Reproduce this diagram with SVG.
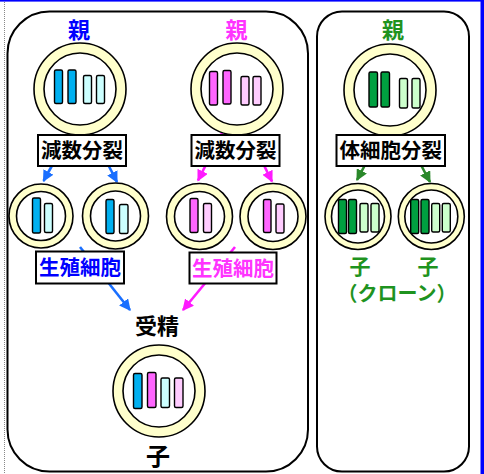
<svg xmlns="http://www.w3.org/2000/svg" width="484" height="474" viewBox="0 0 484 474">
  <defs>
    <style>
      .panel { fill: #ffffff; stroke: #000000; stroke-width: 2; }
      .ring { fill: #ffffcc; stroke: #000000; stroke-width: 1.6; }
      .core { fill: #ffffff; stroke: #000000; stroke-width: 1.6; }
      .bar { stroke: #000000; stroke-width: 1.4; }
      .b-dark { fill: #00b0f0; }
      .b-light { fill: #ccffff; }
      .p-dark { fill: #ff66ff; }
      .p-light { fill: #ffccff; }
      .g-dark { fill: #00a040; }
      .g-light { fill: #ccffcc; }
      .box { fill: #ffffff; stroke: #000000; stroke-width: 2; }
      .t { font-family: "Noto Sans CJK JP", "Noto Sans", sans-serif; font-weight: bold; text-anchor: middle; }
      .blue { fill: #0000ff; }
      .pink { fill: #ff33ff; }
      .green { fill: #1f931f; }
      .black { fill: #000000; }
      .a-blue { stroke: #1a6fff; fill: none; stroke-width: 2.6; }
      .a-pink { stroke: #ff1aff; fill: none; stroke-width: 2.6; }
      .a-green { stroke: #2a882a; fill: none; stroke-width: 2.6; }
    </style>
    <marker id="head-blue" viewBox="0 0 10 10" refX="9" refY="5" markerWidth="4.4" markerHeight="4.4" markerUnits="strokeWidth" orient="auto">
      <path d="M0,0 L10,5 L0,10 z" fill="#1a6fff"/>
    </marker>
    <marker id="head-pink" viewBox="0 0 10 10" refX="9" refY="5" markerWidth="4.4" markerHeight="4.4" markerUnits="strokeWidth" orient="auto">
      <path d="M0,0 L10,5 L0,10 z" fill="#ff1aff"/>
    </marker>
    <marker id="head-green" viewBox="0 0 10 10" refX="9" refY="5" markerWidth="4.4" markerHeight="4.4" markerUnits="strokeWidth" orient="auto">
      <path d="M0,0 L10,5 L0,10 z" fill="#2a882a"/>
    </marker>
  </defs>

  <!-- page frame -->
  <rect x="0" y="0" width="484" height="474" fill="#ffffff"/>
  <rect x="0" y="0" width="484" height="1.6" fill="#0000ff"/>
  <rect x="480.5" y="0" width="3.5" height="474" fill="#0000ff"/>
  <line x1="4.5" y1="2" x2="4.5" y2="474" stroke="#888888" stroke-width="1" stroke-dasharray="1 1"/>

  <!-- panels: sexual reproduction (left) and asexual reproduction (right) -->
  <g id="panel-sexual">
    <rect class="panel" x="7.5" y="11.5" width="300.5" height="460" rx="42" ry="42"/>
  </g>
  <g id="panel-asexual">
    <rect class="panel" x="317" y="11.5" width="152" height="460" rx="25" ry="25"/>
  </g>

  <!-- connectors -->
  <g id="connectors">
    <line class="a-blue" x1="70" y1="133" x2="43.5" y2="181" marker-end="url(#head-blue)"/>
    <line class="a-blue" x1="92" y1="133" x2="117" y2="182" marker-end="url(#head-blue)"/>
    <line class="a-pink" x1="222" y1="133" x2="198" y2="180.5" marker-end="url(#head-pink)"/>
    <line class="a-pink" x1="248" y1="133" x2="272" y2="181.5" marker-end="url(#head-pink)"/>
    <line class="a-green" x1="382" y1="133" x2="357" y2="180" marker-end="url(#head-green)"/>
    <line class="a-green" x1="404" y1="133" x2="430" y2="182" marker-end="url(#head-green)"/>
    <line class="a-blue" x1="80" y1="247" x2="130" y2="310" stroke-width="3" marker-end="url(#head-blue)"/>
    <line class="a-pink" x1="235" y1="247" x2="183" y2="310" stroke-width="3" marker-end="url(#head-pink)"/>
  </g>

  <!-- blue parent -->
  <g id="parent-blue">
    <text class="t blue" x="79" y="38" font-size="22">親</text>
    <circle class="ring" cx="80" cy="89" r="46"/>
    <circle class="core" cx="80" cy="89" r="36"/>
    <rect class="bar b-dark" x="54.5" y="70" width="8" height="33.5" rx="1.5"/>
    <rect class="bar b-dark" x="68" y="70" width="8" height="33.5" rx="1.5"/>
    <rect class="bar b-light" x="83.5" y="75.5" width="8" height="28" rx="1.5"/>
    <rect class="bar b-light" x="96.5" y="75.5" width="8" height="28" rx="1.5"/>
  </g>

  <!-- pink parent -->
  <g id="parent-pink">
    <text class="t pink" x="236.5" y="38" font-size="22">親</text>
    <circle class="ring" cx="237" cy="89" r="46"/>
    <circle class="core" cx="237" cy="89" r="36"/>
    <rect class="bar p-dark" x="209.5" y="71.5" width="8" height="33.5" rx="1.5"/>
    <rect class="bar p-dark" x="223" y="70.5" width="8" height="33.5" rx="1.5"/>
    <rect class="bar p-light" x="241" y="76.5" width="8" height="28.5" rx="1.5"/>
    <rect class="bar p-light" x="253" y="76.5" width="8" height="28.5" rx="1.5"/>
  </g>

  <!-- green parent -->
  <g id="parent-green">
    <text class="t green" x="393" y="38" font-size="22">親</text>
    <circle class="ring" cx="390" cy="90" r="46"/>
    <circle class="core" cx="390" cy="90" r="36"/>
    <rect class="bar g-dark" x="369" y="72" width="8.5" height="35" rx="1.5"/>
    <rect class="bar g-dark" x="381" y="72" width="8.5" height="35" rx="1.5"/>
    <rect class="bar g-light" x="399.5" y="78.5" width="8" height="29.5" rx="1.5"/>
    <rect class="bar g-light" x="412" y="78.5" width="8" height="29.5" rx="1.5"/>
  </g>

  <!-- division labels -->
  <g id="meiosis-blue">
    <rect class="box" x="38" y="135" width="88" height="31"/>
    <text class="t black" x="82" y="158" font-size="20.5">減数分裂</text>
  </g>
  <g id="meiosis-pink">
    <rect class="box" x="191.5" y="135" width="88" height="31"/>
    <text class="t black" x="235.5" y="158" font-size="20.5">減数分裂</text>
  </g>
  <g id="mitosis-green">
    <rect class="box" x="336.5" y="135" width="108.5" height="31"/>
    <text class="t black" x="390.75" y="158" font-size="20.5">体細胞分裂</text>
  </g>

  <!-- blue gametes -->
  <g id="gamete-blue-1">
    <circle class="ring" cx="41" cy="216" r="32"/>
    <circle class="core" cx="41" cy="216" r="24.5"/>
    <rect class="bar b-dark" x="32.5" y="198" width="8" height="35" rx="1.5"/>
    <rect class="bar b-light" x="44.5" y="203.5" width="8" height="29" rx="1.5"/>
  </g>
  <g id="gamete-blue-2">
    <circle class="ring" cx="115.5" cy="216" r="33"/>
    <circle class="core" cx="115.5" cy="216" r="25"/>
    <rect class="bar b-dark" x="106" y="199.5" width="8" height="34" rx="1.5"/>
    <rect class="bar b-light" x="119.5" y="204.5" width="8.5" height="29" rx="1.5"/>
  </g>

  <!-- pink gametes -->
  <g id="gamete-pink-1">
    <circle class="ring" cx="199.5" cy="216.5" r="33"/>
    <circle class="core" cx="199.5" cy="216.5" r="25"/>
    <rect class="bar p-dark" x="190" y="198.5" width="8" height="34" rx="1.5"/>
    <rect class="bar p-light" x="203.5" y="203.5" width="8" height="29" rx="1.5"/>
  </g>
  <g id="gamete-pink-2">
    <circle class="ring" cx="273" cy="216.5" r="33"/>
    <circle class="core" cx="273" cy="216.5" r="25"/>
    <rect class="bar p-dark" x="263.5" y="199.5" width="7.5" height="33" rx="1.5"/>
    <rect class="bar p-light" x="276" y="204" width="8" height="29" rx="1.5"/>
  </g>

  <!-- green clones -->
  <g id="clone-green-1">
    <circle class="ring" cx="358" cy="216.5" r="33"/>
    <circle class="core" cx="358" cy="216.5" r="26.5"/>
    <rect class="bar g-dark" x="338.5" y="199.5" width="8" height="34" rx="1.5"/>
    <rect class="bar g-dark" x="348.5" y="199.5" width="8" height="34" rx="1.5"/>
    <rect class="bar g-light" x="360" y="203.5" width="8" height="28.5" rx="1.5"/>
    <rect class="bar g-light" x="371" y="203.5" width="8" height="28.5" rx="1.5"/>
  </g>
  <g id="clone-green-2">
    <circle class="ring" cx="431.3" cy="216.5" r="33"/>
    <circle class="core" cx="431.3" cy="216.5" r="26.5"/>
    <rect class="bar g-dark" x="410.7" y="199.5" width="8" height="34" rx="1.5"/>
    <rect class="bar g-dark" x="421" y="199.5" width="8" height="34" rx="1.5"/>
    <rect class="bar g-light" x="431.7" y="203.5" width="8" height="28.5" rx="1.5"/>
    <rect class="bar g-light" x="442.3" y="203.5" width="8" height="28.5" rx="1.5"/>
  </g>

  <!-- gamete labels -->
  <g id="label-germ-blue">
    <rect class="box" x="36" y="251.5" width="88" height="32"/>
    <text class="t blue" x="80" y="275" font-size="20.5">生殖細胞</text>
  </g>
  <g id="label-germ-pink">
    <rect class="box" x="189.5" y="252.5" width="87" height="31"/>
    <text class="t pink" x="233" y="275.5" font-size="20.5">生殖細胞</text>
  </g>

  <!-- clone labels -->
  <g id="label-clone">
    <text class="t green" x="360" y="274" font-size="21">子</text>
    <text class="t green" x="428" y="274" font-size="21">子</text>
    <text class="t green" x="397" y="301" font-size="20">（クローン）</text>
  </g>

  <!-- fertilization and offspring -->
  <g id="label-fertilization">
    <text class="t black" x="157" y="334" font-size="22">受精</text>
  </g>
  <g id="offspring">
    <circle class="ring" cx="159" cy="391" r="46"/>
    <circle class="core" cx="159" cy="391" r="36"/>
    <rect class="bar b-dark" x="133.5" y="373.5" width="8.5" height="35" rx="1.5"/>
    <rect class="bar p-dark" x="147.5" y="372.5" width="8.5" height="35" rx="1.5"/>
    <rect class="bar b-light" x="161" y="378" width="8.5" height="29.5" rx="1.5"/>
    <rect class="bar p-light" x="174.5" y="378" width="8.5" height="29.5" rx="1.5"/>
    <text class="t black" x="158" y="465" font-size="24">子</text>
  </g>
</svg>
